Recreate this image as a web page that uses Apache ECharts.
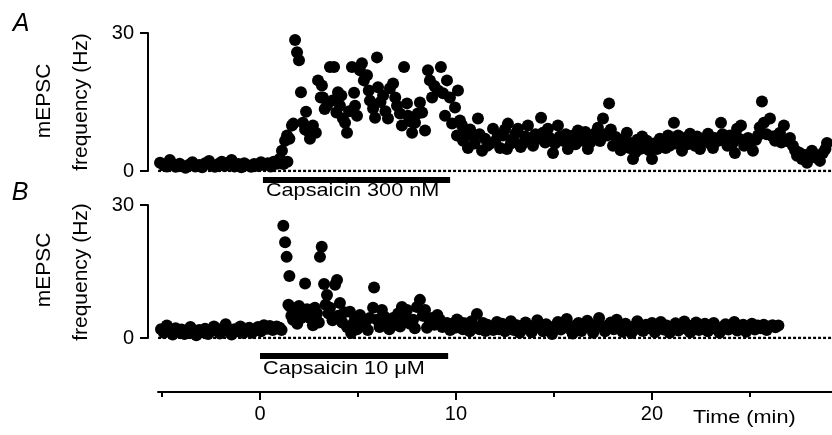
<!DOCTYPE html>
<html>
<head>
<meta charset="utf-8">
<title>mEPSC frequency</title>
<script src="https://cdn.jsdelivr.net/npm/echarts@6/dist/echarts.min.js"></script>
<style>
  html, body { margin: 0; padding: 0; background: #fff; }
  #chart { width: 832px; height: 435px; }
</style>
</head>
<body>
<div id="chart"></div>
<script>
// A: capsaicin 300 nM, [time (min), mEPSC frequency (Hz)]
const cap300 = [
  [-5.1,1.8],[-4.9,1.2],[-4.75,1.0],[-4.6,2.4],[-4.45,1.5],[-4.3,0.9],[-4.1,1.6],[-3.95,1.1],[-3.8,0.7],[-3.6,1.4],
  [-3.45,1.9],[-3.3,1.0],[-3.1,1.3],[-2.95,0.8],[-2.8,1.7],[-2.6,2.2],[-2.45,1.2],[-2.3,0.9],[-2.1,1.6],[-1.95,2.0],
  [-1.8,1.1],[-1.6,1.8],[-1.45,2.4],[-1.3,1.0],[-1.1,1.5],[-0.95,0.8],[-0.8,1.7],[-0.6,1.2],[-0.45,0.9],[-0.3,1.5],
  [-0.1,1.1],[0.05,1.9],[0.2,1.3],[0.4,1.7],[0.55,1.0],[0.7,2.0],[0.85,1.6],[1.0,2.6],[1.12,4.4],[1.2,1.5],
  [1.28,6.6],[1.38,7.7],[1.4,2.0],[1.5,7.0],[1.63,9.9],[1.7,10.3],[1.79,28.5],[1.89,25.8],[1.99,24.1],[2.09,17.1],
  [2.19,10.5],[2.3,9.0],[2.35,12.9],[2.4,8.8],[2.55,7.0],[2.7,9.9],[2.85,8.3],[2.96,19.7],[3.1,16.0],[3.16,18.6],
  [3.21,16.0],[3.3,13.5],[3.42,14.2],[3.57,22.6],[3.7,15.3],[3.78,22.6],[3.9,12.7],[3.98,17.1],[4.08,14.2],[4.15,16.4],
  [4.23,11.4],[4.34,10.5],[4.44,8.3],[4.55,13.0],[4.69,22.6],[4.8,17.0],[4.85,14.2],[4.95,12.0],[5.1,21.9],[5.2,23.4],
  [5.3,19.7],[5.46,20.8],[5.55,17.5],[5.61,15.3],[5.77,13.6],[5.87,11.6],[5.97,24.7],[6.02,18.2],[6.15,15.0],[6.28,16.4],
  [6.4,13.0],[6.53,11.4],[6.63,18.0],[6.79,19.0],[6.9,16.0],[6.99,14.2],[7.14,12.5],[7.24,9.9],[7.35,22.6],[7.5,14.7],
  [7.55,12.0],[7.65,10.8],[7.76,8.3],[7.91,10.5],[8.05,12.5],[8.16,14.9],[8.27,12.7],[8.42,8.8],[8.57,21.9],[8.67,19.7],
  [8.78,16.0],[8.9,18.5],[9.08,17.5],[9.23,22.6],[9.34,16.9],[9.44,12.0],[9.54,19.7],[9.69,16.0],[9.8,10.3],[9.95,13.8],
  [10.05,7.7],[10.1,17.5],[10.2,11.0],[10.31,9.9],[10.36,6.6],[10.5,8.5],[10.61,5.0],[10.72,9.0],[10.82,7.7],[10.95,6.0],
  [11.12,11.4],[11.2,8.0],[11.33,4.4],[11.48,7.0],[11.6,5.5],[11.73,5.9],[11.89,9.2],[12.0,6.5],[12.14,7.7],[12.25,5.0],
  [12.4,7.7],[12.5,9.0],[12.6,4.8],[12.65,10.3],[12.8,6.0],[12.91,7.0],[13.05,8.2],[13.16,9.2],[13.3,5.2],[13.42,6.1],
  [13.55,7.5],[13.67,9.9],[13.8,7.0],[13.93,5.5],[14.05,8.0],[14.18,7.0],[14.34,11.6],[14.44,8.3],[14.55,6.2],[14.69,9.2],
  [14.8,7.2],[14.95,3.9],[15.05,6.0],[15.2,9.9],[15.3,7.5],[15.46,6.6],[15.6,8.0],[15.71,4.8],[15.85,6.5],[15.97,7.7],
  [16.1,5.8],[16.22,8.8],[16.35,7.2],[16.48,6.6],[16.6,8.5],[16.73,4.8],[16.85,6.2],[16.99,7.0],[17.1,8.2],[17.24,9.4],
  [17.35,6.5],[17.5,11.4],[17.6,8.0],[17.7,7.7],[17.81,14.7],[17.9,9.0],[18.01,5.5],[18.15,7.4],[18.27,6.6],[18.4,4.5],
  [18.5,5.2],[18.6,7.0],[18.72,8.3],[18.85,5.0],[18.98,6.1],[19.03,2.6],[19.15,4.0],[19.25,6.8],[19.39,4.8],[19.5,7.5],
  [19.6,5.5],[19.74,6.6],[19.85,4.5],[20.0,2.6],[20.1,6.0],[20.26,4.8],[20.4,7.0],[20.56,6.1],[20.7,5.0],[20.82,7.7],
  [20.9,5.5],[21.0,7.0],[21.12,10.5],[21.2,6.0],[21.33,7.7],[21.45,6.3],[21.53,4.4],[21.65,7.2],[21.8,5.8],[21.94,8.1],
  [22.05,6.5],[22.19,5.5],[22.3,7.5],[22.45,4.8],[22.55,6.6],[22.7,7.0],[22.86,8.1],[22.95,6.0],[23.11,5.0],[23.2,7.2],
  [23.35,6.5],[23.52,10.5],[23.6,8.0],[23.72,6.6],[23.85,5.5],[23.98,7.7],[24.1,6.0],[24.23,3.9],[24.34,9.2],[24.45,7.0],
  [24.54,9.9],[24.7,5.5],[24.9,7.2],[25.0,6.0],[25.15,4.4],[25.3,6.8],[25.41,7.7],[25.5,9.5],[25.61,15.1],[25.71,10.5],
  [25.85,8.0],[26.02,11.4],[26.15,7.5],[26.28,6.6],[26.4,7.8],[26.53,8.3],[26.6,6.2],[26.73,9.9],[26.85,6.5],[27.04,7.2],
  [27.19,5.5],[27.3,4.5],[27.4,3.3],[27.5,4.0],[27.65,2.6],[27.8,3.5],[27.91,1.8],[28.05,3.0],[28.16,4.4],[28.3,3.6],
  [28.42,2.8],[28.57,2.2],[28.72,3.9],[28.85,4.8],[28.93,6.1]
];

// B: capsaicin 10 uM
const cap10 = [
  [-5.05,2.0],[-4.9,1.2],[-4.75,2.8],[-4.6,1.5],[-4.45,0.8],[-4.3,2.2],[-4.15,1.4],[-4.0,1.9],[-3.85,0.9],[-3.7,1.6],
  [-3.55,2.5],[-3.4,1.1],[-3.25,0.6],[-3.1,1.8],[-2.95,1.3],[-2.8,2.1],[-2.65,0.9],[-2.5,1.5],[-2.35,2.6],[-2.2,1.7],
  [-2.05,1.0],[-1.9,2.2],[-1.75,3.1],[-1.6,1.4],[-1.45,0.8],[-1.3,2.0],[-1.15,1.5],[-1.0,2.6],[-0.85,1.1],[-0.7,1.8],
  [-0.55,2.3],[-0.4,1.2],[-0.25,1.7],[-0.1,2.5],[0.05,1.5],[0.2,2.9],[0.35,2.1],[0.5,2.7],[0.65,1.8],[0.85,2.6],
  [1.0,2.3],[1.1,1.8],[1.19,25.3],[1.28,21.6],[1.36,18.3],[1.45,7.5],[1.5,14.0],[1.53,7.1],[1.6,5.0],[1.68,4.1],
  [1.8,6.5],[1.9,3.2],[1.99,7.2],[2.1,4.5],[2.19,5.2],[2.3,12.3],[2.4,6.5],[2.55,4.5],[2.7,2.9],[2.8,6.8],
  [2.91,5.6],[3.0,3.5],[3.06,18.3],[3.15,20.6],[3.27,12.2],[3.35,7.5],[3.42,9.7],[3.5,5.5],[3.57,6.8],[3.7,4.0],
  [3.83,12.0],[3.93,13.1],[4.0,5.0],[4.08,7.9],[4.2,3.5],[4.3,5.8],[4.44,2.5],[4.59,5.9],[4.65,1.1],[4.75,3.2],
  [4.85,4.5],[4.95,2.0],[5.1,5.2],[5.2,3.0],[5.36,3.4],[5.5,1.8],[5.6,4.5],[5.77,6.8],[5.82,11.4],[5.97,4.1],
  [6.1,2.5],[6.22,6.3],[6.35,4.8],[6.48,3.4],[6.6,2.0],[6.79,4.5],[6.9,3.0],[7.05,5.5],[7.15,2.6],[7.24,7.0],
  [7.35,4.5],[7.5,6.3],[7.65,3.2],[7.81,4.1],[7.9,2.2],[8.01,7.0],[8.16,8.6],[8.3,5.0],[8.42,6.3],[8.52,2.3],
  [8.65,3.8],[8.78,4.5],[8.9,3.0],[9.05,5.2],[9.18,4.1],[9.3,2.5],[9.4,3.0],[9.54,3.4],[9.7,1.8],[9.82,3.2],
  [9.95,2.3],[10.05,4.2],[10.2,3.6],[10.35,2.0],[10.45,3.3],[10.56,2.9],[10.7,1.5],[10.8,3.8],[10.95,2.4],[11.07,5.4],
  [11.2,2.0],[11.38,3.4],[11.5,1.6],[11.6,3.0],[11.73,2.5],[11.9,1.8],[12.09,3.6],[12.2,2.0],[12.35,3.2],[12.5,1.5],
  [12.65,2.6],[12.8,3.8],[12.95,1.8],[13.1,2.9],[13.25,1.2],[13.4,2.4],[13.55,3.5],[13.7,2.0],[13.85,1.3],[14.0,2.8],
  [14.15,4.0],[14.3,2.2],[14.45,1.5],[14.6,3.1],[14.75,2.3],[14.9,0.9],[15.05,2.7],[15.2,3.6],[15.35,1.9],[15.5,2.5],
  [15.65,4.3],[15.8,2.1],[15.95,1.0],[16.1,2.8],[16.25,3.4],[16.4,1.6],[16.55,2.4],[16.7,3.9],[16.85,2.2],[17.0,1.2],
  [17.15,3.0],[17.3,4.5],[17.45,2.6],[17.6,1.5],[17.75,2.9],[17.9,3.5],[18.05,2.0],[18.2,4.1],[18.35,2.7],[18.5,1.4],
  [18.65,3.2],[18.8,2.3],[18.95,1.1],[19.1,2.6],[19.25,3.8],[19.4,2.0],[19.55,1.6],[19.7,3.0],[19.85,2.2],[20.0,3.4],
  [20.15,1.3],[20.3,2.5],[20.45,3.6],[20.6,1.9],[20.75,2.8],[20.9,1.2],[21.05,2.4],[21.2,3.3],[21.35,1.7],[21.5,2.6],
  [21.65,3.7],[21.8,2.0],[21.95,1.3],[22.1,2.9],[22.25,3.5],[22.4,1.8],[22.55,2.4],[22.7,3.2],[22.85,1.5],[23.0,2.7],
  [23.15,3.4],[23.3,2.0],[23.45,1.2],[23.6,2.5],[23.75,3.1],[23.9,1.9],[24.05,2.6],[24.2,3.6],[24.35,1.7],[24.5,2.3],
  [24.65,3.0],[24.8,1.4],[24.95,2.5],[25.1,3.2],[25.25,1.9],[25.4,2.8],[25.55,2.2],[25.7,3.0],[25.85,1.8],[26.0,2.6],
  [26.15,2.9],[26.3,2.4],[26.45,2.8]
];

const timeLabels = [0, 10, 20];
const timeMinor = [-5, 5, 15, 25];
const zeroLine = [[-5.2, 0], [29.2, 0]];
const drugA = { start: 0.15, end: 9.7, label: 'Capsaicin 300 nM' };
const drugB = { start: 0.0, end: 9.6, label: 'Capsaicin 10 μM' };

const FONT = '"Liberation Sans", Arial, sans-serif';
const chart = echarts.init(document.getElementById('chart'));

function freqAxis (idx) {
  return {
    gridIndex: idx, type: 'value', min: 0, max: 30, interval: 30,
    axisLine: { show: true, onZero: false, lineStyle: { color: '#000', width: 2 } },
    axisTick: { show: true, length: 8, lineStyle: { color: '#000', width: 2 } },
    axisLabel: { color: '#000', fontSize: 20, fontFamily: FONT, margin: 14 },
    splitLine: { show: false }
  }
}

function hiddenTime (idx) {
  return { gridIndex: idx, type: 'value', min: -5.714, max: 29.184, show: false, splitLine: { show: false } }
}

function dots (data, idx) {
  return {
    type: 'scatter', xAxisIndex: idx, yAxisIndex: idx, data: data,
    symbolSize: 12, itemStyle: { color: '#000', opacity: 1 }, z: 3, silent: true, animation: false
  }
}

function zero (idx) {
  return {
    type: 'line', xAxisIndex: idx, yAxisIndex: idx, data: zeroLine, symbol: 'none', z: 1,
    lineStyle: { color: '#000', width: 2.5, type: [3, 2] }, silent: true, animation: false
  }
}

chart.setOption({
  animation: false,
  backgroundColor: '#fff',
  grid: [
    { left: 148, right: 0, top: 33, height: 138 },
    { left: 148, right: 0, top: 205, height: 133 },
    { left: 158, right: 0, top: 391, height: 1 }
  ],
  xAxis: [
    hiddenTime(0),
    hiddenTime(1),
    {
      gridIndex: 2, type: 'value', min: -5.204, max: 29.184, position: 'bottom',
      axisLine: { show: true, onZero: false, lineStyle: { color: '#000', width: 2 } },
      axisTick: { show: true, length: 8, customValues: timeLabels, lineStyle: { color: '#000', width: 2 } },
      axisLabel: { color: '#000', fontSize: 20, fontFamily: FONT, margin: 12, customValues: timeLabels },
      splitLine: { show: false }
    },
    {
      gridIndex: 2, type: 'value', min: -5.204, max: 29.184, position: 'bottom',
      axisLine: { show: false, onZero: false },
      axisTick: { show: true, length: 5, customValues: timeMinor, lineStyle: { color: '#000', width: 2 } },
      axisLabel: { show: false },
      splitLine: { show: false }
    }
  ],
  yAxis: [
    freqAxis(0),
    freqAxis(1),
    { gridIndex: 2, type: 'value', min: 0, max: 1, show: false, splitLine: { show: false } }
  ],
  series: [zero(0), dots(cap300, 0), zero(1), dots(cap10, 1)]
});

function label (text, x, y, opts) {
  return Object.assign({
    type: 'text', x: x, y: y, silent: true,
    style: Object.assign({ text: text, fill: '#000', font: '21px ' + FONT, align: 'center', verticalAlign: 'middle' }, opts && opts.style)
  }, opts && opts.el)
}

function drugBar (drug, idx, y, textY) {
  const x0 = chart.convertToPixel({ xAxisIndex: idx }, drug.start);
  const x1 = chart.convertToPixel({ xAxisIndex: idx }, drug.end);
  return [
    { type: 'rect', silent: true, shape: { x: x0, y: y - 3, width: x1 - x0, height: 6 }, style: { fill: '#000' } },
    label(drug.label, x0 + 3, textY, { style: { align: 'left', font: '19px ' + FONT }, el: { scaleX: 1.14 } })
  ]
}

chart.setOption({
  graphic: [
    label('A', 21, 24, { style: { font: 'italic 25px ' + FONT } }),
    label('B', 20, 193, { style: { font: 'italic 25px ' + FONT } }),
    label('mEPSC', 44, 101, { el: { rotation: Math.PI / 2 } }),
    label('frequency (Hz)', 81, 102, { el: { rotation: Math.PI / 2 } }),
    label('mEPSC', 44, 270, { el: { rotation: Math.PI / 2 } }),
    label('frequency (Hz)', 81, 272, { el: { rotation: Math.PI / 2 } }),
    label('Time (min)', 693, 418, { style: { align: 'left', font: '19px ' + FONT }, el: { scaleX: 1.14 } })
  ].concat(drugBar(drugA, 0, 180, 191), drugBar(drugB, 1, 356, 369))
});
</script>
</body>
</html>
